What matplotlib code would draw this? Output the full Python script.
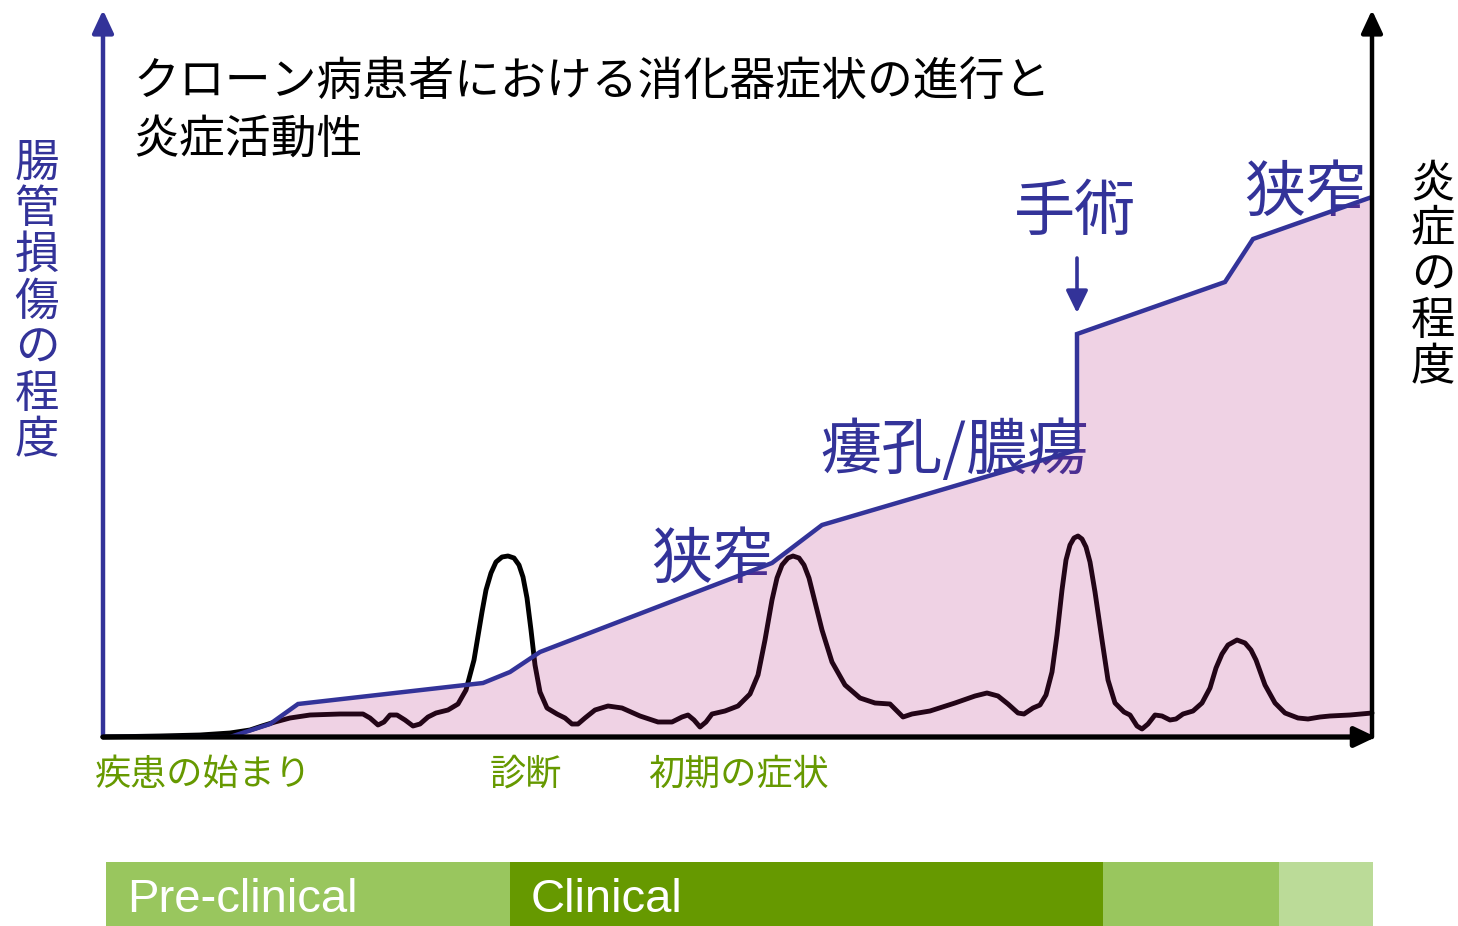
import matplotlib
matplotlib.use("Agg")
import matplotlib.pyplot as plt
import numpy as np

plt.rcParams['font.family'] = ['Noto Sans CJK JP', 'DejaVu Sans']

# ---- data (arbitrary time / severity units) ----
damage_t = [0, 127, 167, 195, 380, 407, 437, 669, 719, 974, 974, 1122, 1150, 1269]
damage_v = [0, 0, 13, 33, 54, 65, 85, 174, 212, 287, 403, 455, 498, 540]

inflam_t = [0, 57, 97, 127, 147, 159, 172, 187, 207, 237, 260, 267, 275, 281, 287, 294,
            302, 310, 317, 325, 333, 345, 355, 363, 371, 379, 383, 388, 393, 399, 405,
            411, 416, 420, 424, 428, 432, 437, 444, 454, 462, 469, 475, 482, 492, 505,
            519, 537, 555, 569, 579, 585, 591, 597, 603, 609, 622, 635, 647, 655, 662,
            669, 674, 679, 685, 690, 696, 701, 706, 711, 719, 729, 742, 757, 772, 787,
            794, 800, 809, 827, 852, 872, 884, 895, 905, 915, 921, 930, 937, 943, 949,
            954, 959, 963, 967, 971, 975, 979, 983, 987, 992, 999, 1005, 1012, 1021,
            1027, 1034, 1039, 1045, 1052, 1059, 1067, 1073, 1080, 1090, 1099, 1107, 1113,
            1119, 1125, 1134, 1142, 1148, 1153, 1162, 1172, 1182, 1195, 1205, 1217, 1227,
            1247, 1269]
inflam_v = [0, 1, 2, 4, 7, 11, 15, 19, 22, 23, 23, 19, 12, 15, 22, 22,
            17, 11, 13, 20, 24, 27, 33, 47, 77, 125, 147, 164, 175, 180, 181,
            179, 172, 160, 139, 107, 72, 45, 29, 23, 19, 13, 13, 19, 27, 31,
            29, 21, 15, 15, 20, 22, 17, 10, 15, 23, 26, 31, 43, 62, 97,
            137, 159, 172, 179, 181, 179, 172, 159, 139, 107, 75, 52, 39, 34, 33,
            26, 20, 23, 26, 34, 41, 44, 41, 33, 24, 23, 29, 32, 42, 65,
            102, 147, 177, 192, 199, 201, 198, 190, 175, 145, 97, 57, 34, 25,
            22, 11, 8, 13, 22, 21, 17, 18, 23, 26, 34, 49, 69,
            83, 92, 97, 94, 87, 77, 52, 34, 24, 19, 18, 20, 21,
            22, 24]

phase_names = ['Pre-clinical', 'Clinical', '', '']
phase_start = [3, 407, 1000, 1176]
phase_end = [407, 1000, 1176, 1270]
phase_colors = ['#99c65e', '#669900', '#99c65e', '#bbdb98']

title_lines = ['クローン病患者における消化器症状の進行と', '炎症活動性']
left_label = '腸管損傷の程度'
right_label = '炎症の程度'
event_labels = ['疾患の始まり', '診断', '初期の症状']
event_pos = [-8, 387, 545]
complication_labels = ['狭窄', '瘻孔/膿瘍', '手術', '狭窄']
complication_pos = [(609, 176), (852, 285), (972, 524), (1202, 543)]

BLUE = '#333399'
GREEN = '#669900'

fig = plt.figure(figsize=(14.58, 9.26), dpi=100)
ax = fig.add_axes([103 / 1458, 189 / 926, 1269 / 1458, 727 / 926])
ax.set_xlim(0, 1269)
ax.set_ylim(0, 727)
ax.axis('off')

# inflammation curve (under the translucent fill)
ax.plot(inflam_t, inflam_v, color='black', lw=3.5, solid_joinstyle='round',
        solid_capstyle='round', zorder=2, clip_on=False)

# damage area
ax.fill_between(damage_t, 0, damage_v, color='#b01e78', alpha=0.2, lw=0, zorder=3)
ax.plot(damage_t, damage_v, color=BLUE, lw=3.2, solid_joinstyle='miter', zorder=4)

# axes arrows
ax.annotate('', xy=(0, 727), xytext=(0, 0),
            arrowprops=dict(arrowstyle='-|>,head_length=0.43,head_width=0.2',
                            lw=3.2, color=BLUE, mutation_scale=32, shrinkA=0, shrinkB=0),
            annotation_clip=False, zorder=6)
ax.annotate('', xy=(1269, 727), xytext=(1269, 0),
            arrowprops=dict(arrowstyle='-|>,head_length=0.43,head_width=0.2',
                            lw=3.2, color='black', mutation_scale=32, shrinkA=0, shrinkB=0),
            annotation_clip=False, zorder=6)
ax.annotate('', xy=(1273, 0), xytext=(0, 0),
            arrowprops=dict(arrowstyle='-|>,head_length=0.42,head_width=0.2',
                            lw=3.8, color='black', mutation_scale=30, shrinkA=0, shrinkB=0),
            annotation_clip=False, zorder=6)

# surgery arrow
ax.annotate('', xy=(974, 424), xytext=(974, 479),
            arrowprops=dict(arrowstyle='-|>,head_length=0.45,head_width=0.22',
                            lw=2.6, color=BLUE, mutation_scale=30, shrinkA=0, shrinkB=0),
            zorder=5)

# title
ax.text(30, 655, title_lines[0], fontsize=33, ha='left', va='center', color='black')
ax.text(30, 598, title_lines[1], fontsize=33, ha='left', va='center', color='black')

# vertical labels
for i, ch in enumerate(left_label):
    ax.text(-66, 574 - i * 46.2, ch, fontsize=32, ha='center', va='center',
            color=BLUE, clip_on=False)
for i, ch in enumerate(right_label):
    ax.text(1330, 554 - i * 46, ch, fontsize=32, ha='center', va='center',
            color='black', clip_on=False)

# complication labels
for lab, (x, y) in zip(complication_labels, complication_pos):
    ax.text(x, y, lab, fontsize=44, ha='center', va='center', color=BLUE, zorder=1)

# event labels
for lab, x in zip(event_labels, event_pos):
    ax.text(x, -38, lab, fontsize=26, ha='left', va='center', color=GREEN, clip_on=False)

# phase bar
ax.barh([-157] * 4, np.array(phase_end) - np.array(phase_start), left=phase_start,
        height=64, color=phase_colors, lw=0, clip_on=False)
for name, x in zip(phase_names, phase_start):
    if name:
        ax.text(x + 21, -163, name, fontsize=34, ha='left', va='center', color='white',
                family=['Liberation Sans'], clip_on=False)

fig.savefig('out.png', dpi=100)
